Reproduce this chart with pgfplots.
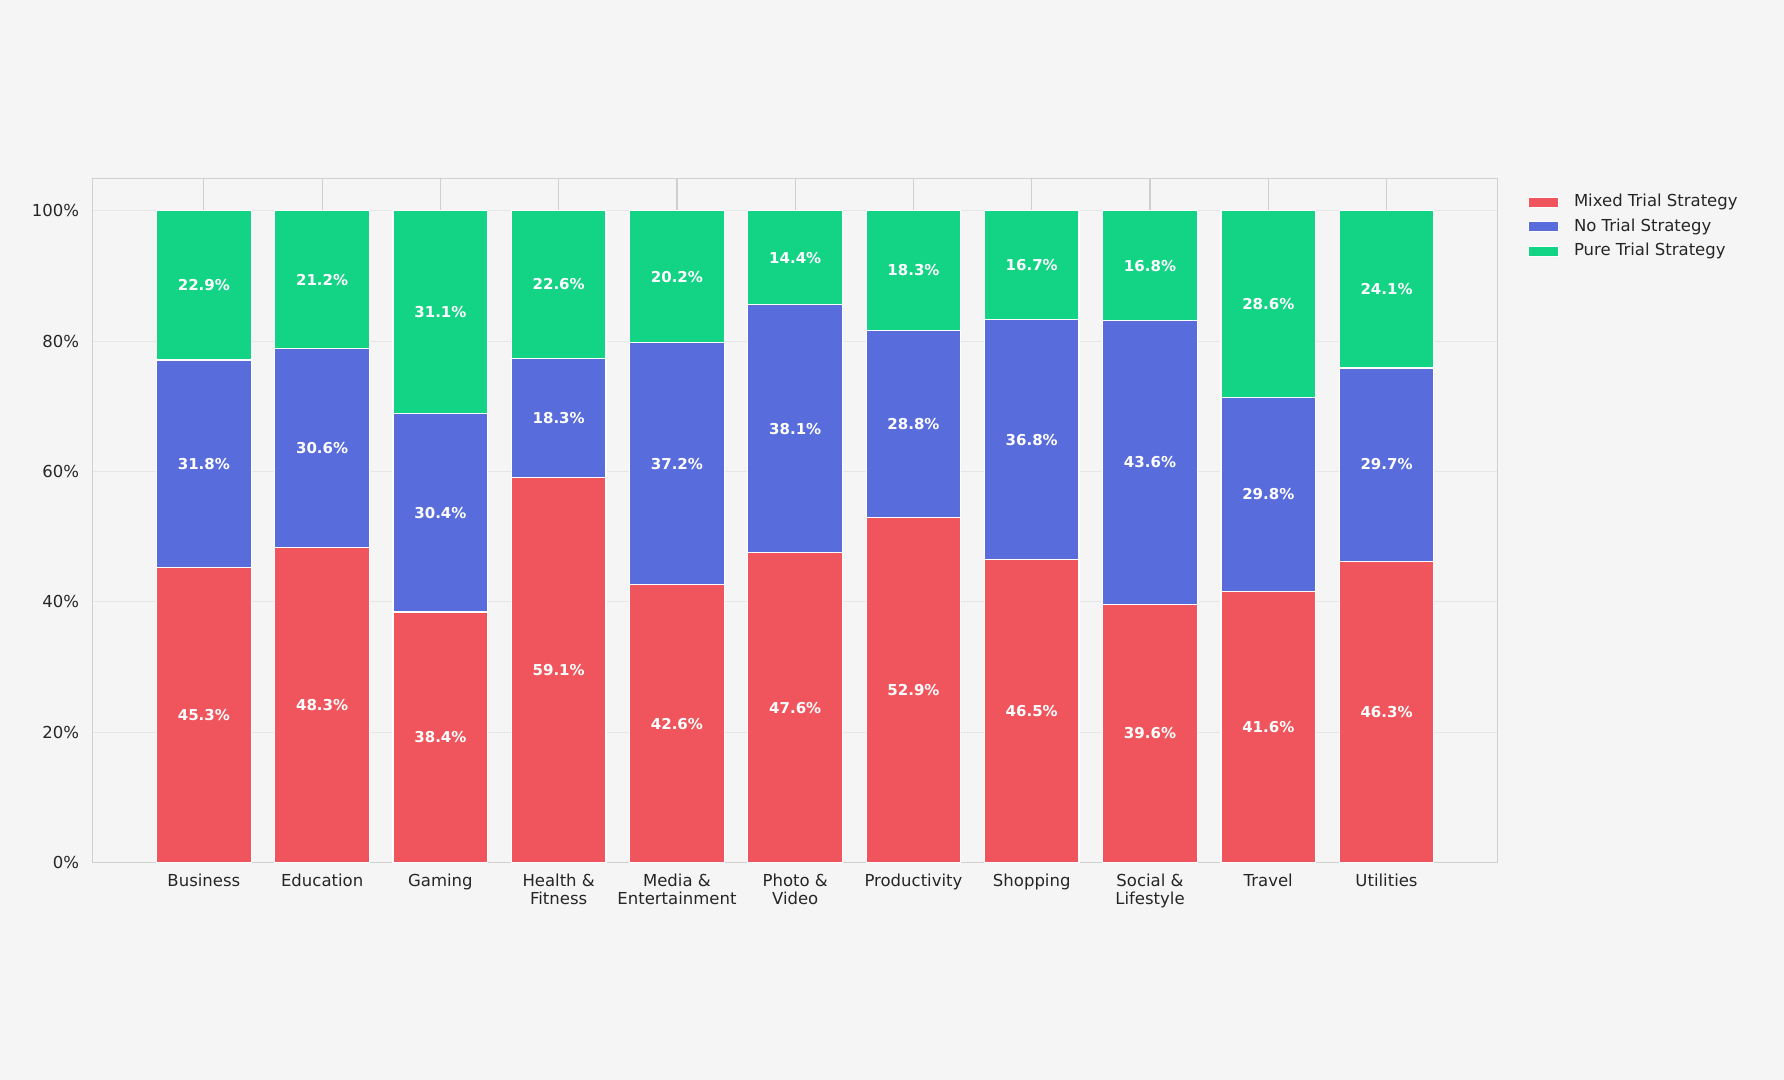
\documentclass[border=0pt]{standalone}
\usepackage{fontspec}
\setmainfont{DejaVu Sans}
\usepackage{pgfplots}
\pgfplotsset{compat=1.18}
\usepackage{pgfplotstable}
\definecolor{bg}{HTML}{F5F5F5}
\definecolor{cred}{HTML}{F0555D}
\definecolor{cblue}{HTML}{586CDC}
\definecolor{cgreen}{HTML}{13D385}
\definecolor{frame}{HTML}{D0D0D0}
\definecolor{gridx}{HTML}{CFCFCF}
\definecolor{gridy}{HTML}{E6E6E6}
\definecolor{txt}{HTML}{262626}

% plotted shares (sum to 100) and the printed, rounded labels
\pgfplotstableread{
x mixed none pure lmixed lnone lpure
0 45.3 31.8 22.9 45.3 31.8 22.9
1 48.3 30.6 21.1 48.3 30.6 21.2
2 38.45 30.45 31.1 38.4 30.4 31.1
3 59.1 18.3 22.6 59.1 18.3 22.6
4 42.6 37.2 20.2 42.6 37.2 20.2
5 47.55 38.05 14.4 47.6 38.1 14.4
6 52.9 28.8 18.3 52.9 28.8 18.3
7 46.5 36.8 16.7 46.5 36.8 16.7
8 39.6 43.6 16.8 39.6 43.6 16.8
9 41.6 29.8 28.6 41.6 29.8 28.6
10 46.25 29.65 24.1 46.3 29.7 24.1
}\datatable

\begin{document}
\begin{tikzpicture}
\fill[bg] (0,0) rectangle (892pt,540pt);
\begin{axis}[
  at={(46.35pt,108.75pt)}, anchor=south west,
  scale only axis, width=702.5pt, height=342.1pt,
  xmin=-0.94, xmax=10.94, ymin=0, ymax=105,
  ybar stacked, bar width=0.8,
  xtick={0,1,2,3,4,5,6,7,8,9,10},
  xticklabels={Business, Education, Gaming, {Health \&\\Fitness}, {Media \&\\Entertainment}, {Photo \&\\Video}, Productivity, Shopping, {Social \&\\Lifestyle}, Travel, Utilities},
  ytick={0,20,40,60,80,100},
  yticklabels={0\%,20\%,40\%,60\%,80\%,100\%},
  xticklabel style={font=\fontsize{8.25}{8.9}\selectfont, align=center, yshift=-2.2pt, text=txt},
  yticklabel style={font=\fontsize{8.25}{9.2}\selectfont, xshift=-3.25pt, text=txt},
  major tick length=0pt,
  tick style={draw=none},
  axis line style={draw=frame, line width=0.7pt},
  xmajorgrids, ymajorgrids,
  x grid style={draw=gridx, line width=0.6pt},
  y grid style={draw=gridy, line width=0.6pt},
  axis background/.style={fill=bg},
  point meta=explicit symbolic,
  nodes near coords={\pgfplotspointmeta\%},
  every node near coord/.append style={anchor=center, text=white, font=\fontsize{7.5}{9}\selectfont\bfseries},
  legend image code/.code={\draw[#1, draw=white, line width=0.5pt] (0pt,-2.5pt) rectangle (15.3pt,2.5pt);},
  legend cell align=left,
  legend style={draw=none, fill=none, at={(1,1)}, anchor=north west, xshift=15pt, yshift=-8pt, inner sep=0pt, outer sep=0pt, row sep=4.25pt, font=\fontsize{8.25}{9.9}\selectfont, text=txt,
    nodes={inner sep=0pt, text height=6.2pt, text depth=1.8pt},
    /tikz/every odd column/.append style={column sep=7.35pt}},
]
\addplot[fill=cred, draw=white, line width=0.6pt] table[x=x, y=mixed, meta=lmixed] {\datatable};
\addlegendentry{Mixed Trial Strategy}
\addplot[fill=cblue, draw=white, line width=0.6pt] table[x=x, y=none, meta=lnone] {\datatable};
\addlegendentry{No Trial Strategy}
\addplot[fill=cgreen, draw=white, line width=0.6pt] table[x=x, y=pure, meta=lpure] {\datatable};
\addlegendentry{Pure Trial Strategy}
\end{axis}
\pgfresetboundingbox
\useasboundingbox (0,0) rectangle (892pt,540pt);
\end{tikzpicture}
\end{document}
